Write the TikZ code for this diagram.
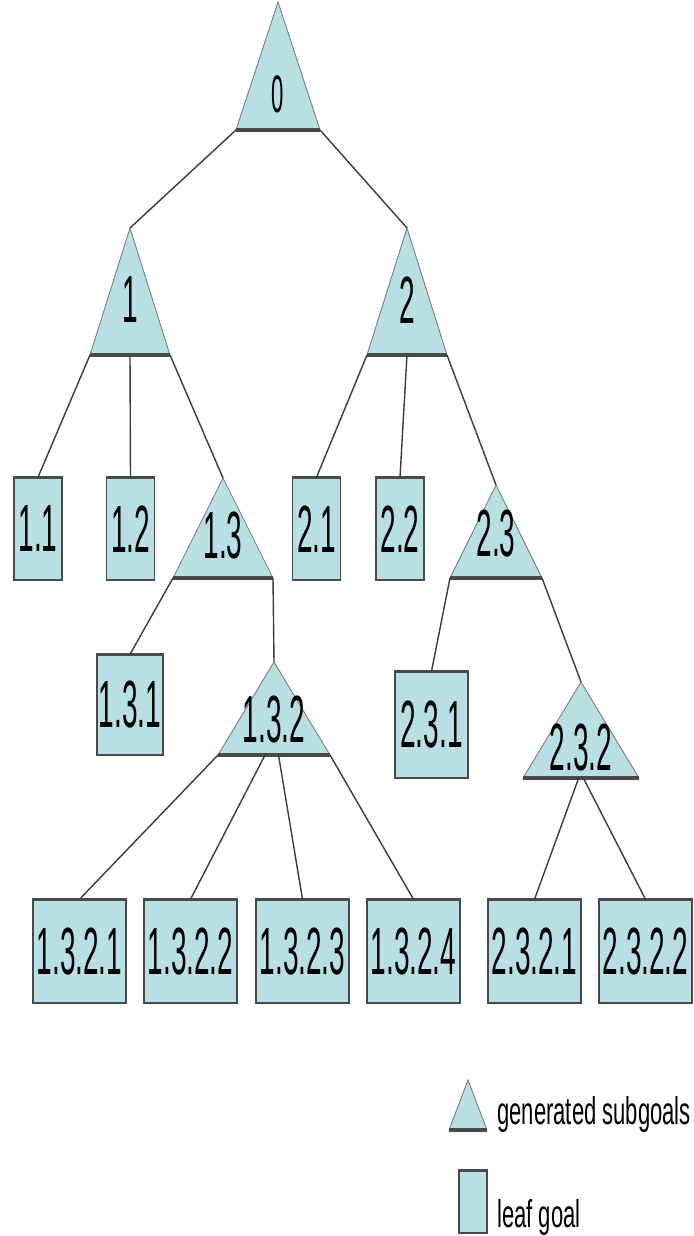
\documentclass[tikz,border=0pt]{standalone}
\usepackage{fontspec}
\setmainfont{Liberation Sans}
\newfontfamily\treefont[FakeStretch=0.42]{Liberation Sans}
\newfontfamily\keyfont[FakeStretch=0.57]{Liberation Sans}
\usepackage{tikz}
\usetikzlibrary{calc}
\definecolor{goalFill}{HTML}{B8E0E4}
\definecolor{goalEdge}{HTML}{7A7A7A}
\definecolor{goalBase}{HTML}{4A4A4A}
\definecolor{linkGray}{HTML}{3C3C3C}

% triangle for a generated subgoal: name, apex x, apex y, half base, height, text y, text
\newcommand{\subgoal}[7]{%
  \coordinate (#1-a) at (#2,#3);
  \coordinate (#1-l) at ({#2-#4},{#3+#5});
  \coordinate (#1-r) at ({#2+#4},{#3+#5});
  \filldraw[tri] (#1-a) -- (#1-r) -- (#1-l) -- cycle;
  \draw[triBase] (#1-l) -- (#1-r);
  \node[goalText] (#1) at (#2,#6) {#7};
}

\begin{document}
\begin{tikzpicture}[x=0.02cm, y=-0.02cm,
  tri/.style={fill=goalFill, draw=goalEdge, line width=0.5pt, line join=miter},
  triBase/.style={draw=goalBase, line width=2pt},
  goalText/.style={inner sep=0pt, font=\treefont\fontsize{38}{42}\selectfont},
  leaf/.style={draw=goalBase, fill=goalFill, line width=0.8pt, inner sep=0pt, font=\treefont\fontsize{38}{42}\selectfont},
  leafTop/.style={draw=goalBase, line width=2pt},
  link/.style={draw=linkGray, line width=0.8pt},
  keyText/.style={inner sep=0pt, anchor=base west, font=\keyfont\fontsize{22}{24}\selectfont}]
  \useasboundingbox (0,0) rectangle (693,1236);

  % Subgoal triangles
  \subgoal{t0}{278}{2}{42}{128}{94}{\fontsize{30}{32}\selectfont 0}
  \subgoal{t1}{130}{228}{40}{127}{300}{1}
  \subgoal{t2}{407}{228}{40}{127}{300}{2}
  \subgoal{t13}{223}{478}{50}{100}{536}{1.3}
  \subgoal{t23}{496}{485}{46}{93}{534}{2.3}
  \subgoal{t132}{274}{662}{56}{93}{720}{1.3.2}
  \subgoal{t232}{581}{682}{58}{96}{748}{2.3.2}

  % Leaf goals
  \node[leaf, minimum width=0.96cm, minimum height=2.04cm] (b11) at (38,529) {1.1};
  \node[leaf, minimum width=0.96cm, minimum height=2.04cm] (b12) at (130.5,529) {1.2};
  \node[leaf, minimum width=0.96cm, minimum height=2.04cm] (b21) at (316.5,529) {2.1};
  \node[leaf, minimum width=0.96cm, minimum height=2.04cm] (b22) at (400,529) {2.2};
  \node[leaf, minimum width=1.32cm, minimum height=2.0cm] (b131) at (130,705) {1.3.1};
  \node[leaf, minimum width=1.46cm, minimum height=2.12cm] (b231) at (431.5,725) {2.3.1};
  \node[leaf, minimum width=1.86cm, minimum height=2.06cm] (b1321) at (79.5,951.5) {1.3.2.1};
  \node[leaf, minimum width=1.86cm, minimum height=2.06cm] (b1322) at (190.5,951.5) {1.3.2.2};
  \node[leaf, minimum width=1.86cm, minimum height=2.06cm] (b1323) at (302.5,951.5) {1.3.2.3};
  \node[leaf, minimum width=1.86cm, minimum height=2.06cm] (b1324) at (413.5,951.5) {1.3.2.4};
  \node[leaf, minimum width=1.86cm, minimum height=2.06cm] (b2321) at (534.5,951.5) {2.3.2.1};
  \node[leaf, minimum width=1.86cm, minimum height=2.06cm] (b2322) at (645.5,951.5) {2.3.2.2};
  \foreach \b in {b11,b12,b21,b22,b131,b231,b1321,b1322,b1323,b1324,b2321,b2322}
    \draw[leafTop] (\b.north west) -- (\b.north east);

  % Tree links
  \draw[link] (t0-l) -- (t1-a);
  \draw[link] (t0-r) -- (t2-a);
  \draw[link] (t1-l) -- (b11.north);
  \draw[link] ($(t1-l)!0.5!(t1-r)$) -- (b12.north);
  \draw[link] (t1-r) -- (t13-a);
  \draw[link] (t2-l) -- (b21.north);
  \draw[link] ($(t2-l)!0.5!(t2-r)$) -- (b22.north);
  \draw[link] (t2-r) -- (t23-a);
  \draw[link] (t13-l) -- (b131.north);
  \draw[link] (t13-r) -- (t132-a);
  \draw[link] (t23-l) -- (b231.north);
  \draw[link] (t23-r) -- (t232-a);
  \draw[link] (t132-l) -- (b1321.north);
  \draw[link] ($(t132-l)!0.42!(t132-r)$) -- (b1322.north);
  \draw[link] ($(t132-l)!0.54!(t132-r)$) -- (b1323.north);
  \draw[link] (t132-r) -- (b1324.north);
  \draw[link] ($(t232-l)!0.48!(t232-r)$) -- (b2321.north);
  \draw[link] ($(t232-l)!0.52!(t232-r)$) -- (b2322.north);

  % Legend
  \subgoal{key1}{468}{1080}{19}{50}{1115}{}
  \node[leaf, minimum width=0.56cm, minimum height=1.24cm] (key2) at (473,1202) {};
  \draw[leafTop] (key2.north west) -- (key2.north east);
  \node[keyText] (key1-txt) at (497,1124) {generated subgoals};
  \node[keyText] (key2-txt) at (497,1227) {leaf goal};
\end{tikzpicture}
\end{document}
